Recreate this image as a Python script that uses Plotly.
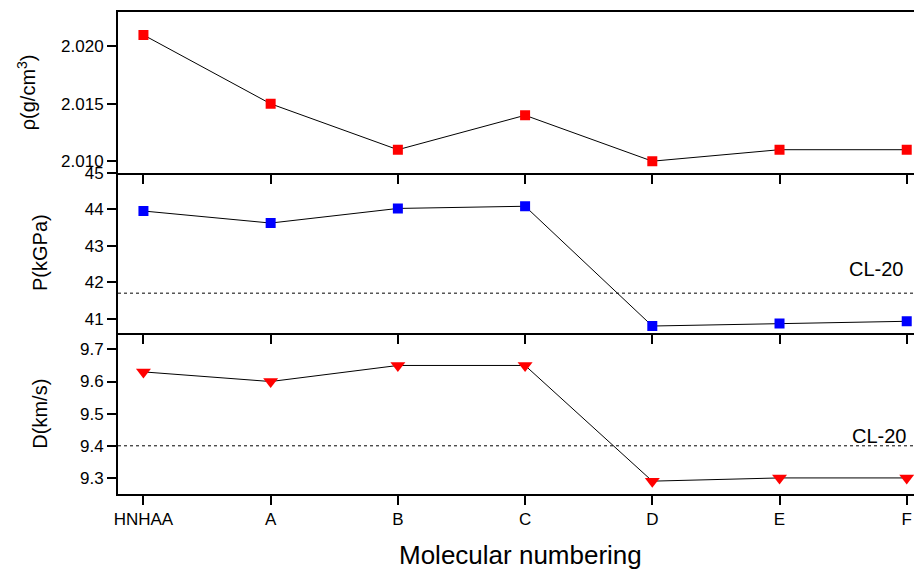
import plotly.graph_objects as go
from plotly.subplots import make_subplots

categories = ["HNHAA", "A", "B", "C", "D", "E", "F"]
rho = [2.021, 2.015, 2.011, 2.014, 2.010, 2.011, 2.011]
pressure = [43.95, 43.62, 44.02, 44.08, 40.80, 40.87, 40.93]
velocity = [9.63, 9.60, 9.65, 9.65, 9.29, 9.30, 9.30]
cl20_pressure = 41.7
cl20_velocity = 9.40

FONT = "Liberation Sans, Arial, sans-serif"

fig = make_subplots(rows=3, cols=1, shared_xaxes=True, vertical_spacing=0)

xs = list(range(len(categories)))

fig.add_trace(go.Scatter(x=xs, y=rho, mode="lines+markers",
                         line=dict(color="black", width=1),
                         marker=dict(symbol="square", size=10, color="#ff0000"),
                         showlegend=False), row=1, col=1)
fig.add_trace(go.Scatter(x=xs, y=pressure, mode="lines+markers",
                         line=dict(color="black", width=1),
                         marker=dict(symbol="square", size=10, color="#0000ff"),
                         showlegend=False), row=2, col=1)
fig.add_trace(go.Scatter(x=xs, y=velocity, mode="lines+markers",
                         line=dict(color="black", width=1),
                         marker=dict(symbol="triangle-down", size=13, color="#ff0000"),
                         showlegend=False), row=3, col=1)

for row, val, xs_shift, ys_shift in [(2, cl20_pressure, -17, 11), (3, cl20_velocity, -14, -3)]:
    fig.add_shape(type="line", xref=f"x{row} domain",
                  x0=0, x1=1, yref=f"y{row}", y0=val, y1=val,
                  line=dict(color="black", width=1, dash="dot"))
    fig.add_annotation(x=1, xref=f"x{row} domain", y=val, yref=f"y{row}",
                       text="CL-20", showarrow=False, xanchor="right", yanchor="bottom",
                       xshift=xs_shift, yshift=ys_shift,
                       font=dict(family=FONT, size=20, color="black"))

axis_common = dict(showline=True, linecolor="black", linewidth=2, mirror=True,
                   ticks="outside", ticklen=9, tickwidth=1.5, tickcolor="black",
                   showgrid=False, zeroline=False, automargin=False,
                   tickfont=dict(family=FONT, size=17, color="black"))

fig.update_xaxes(**axis_common, range=[-0.2, 6.12], tickvals=xs, ticktext=categories)
fig.update_xaxes(showticklabels=False, row=1, col=1)
fig.update_xaxes(showticklabels=False, mirror=False, row=2, col=1)
fig.update_xaxes(mirror=False, row=3, col=1)

fig.update_yaxes(**axis_common)
fig.update_yaxes(row=1, col=1, range=[2.009, 2.023], tickvals=[2.010, 2.015, 2.020],
                 ticktext=["2.010", "2.015", "2.020"])
fig.update_yaxes(row=2, col=1, range=[40.6, 45], tickvals=[41, 42, 43, 44, 45])
fig.update_yaxes(row=3, col=1, range=[9.25, 9.75], tickvals=[9.3, 9.4, 9.5, 9.6, 9.7],
                 ticktext=["9.3", "9.4", "9.5", "9.6", "9.7"])

titles = [("y", "ρ(g/cm<sup>3</sup>)", -92), ("y2", "P(kGPa)", -78), ("y3", "D(km/s)", -78)]
for yref, text, xshift in titles:
    fig.add_annotation(x=0, xref="paper", y=0.5, yref=f"{yref} domain", text=text,
                       textangle=-90, showarrow=False, xanchor="center", yanchor="middle",
                       xshift=xshift, font=dict(family=FONT, size=20, color="black"))
fig.add_annotation(x=0.5, xref="paper", y=0, yref="paper", text="Molecular numbering",
                   showarrow=False, xanchor="center", yanchor="middle", yshift=-61,
                   font=dict(family=FONT, size=26, color="black"))

fig.update_layout(width=914, height=567, plot_bgcolor="white", paper_bgcolor="white",
                  margin=dict(l=110, r=0, t=4, b=81),
                  font=dict(family=FONT, color="black"))

fig.write_html("out.html")
